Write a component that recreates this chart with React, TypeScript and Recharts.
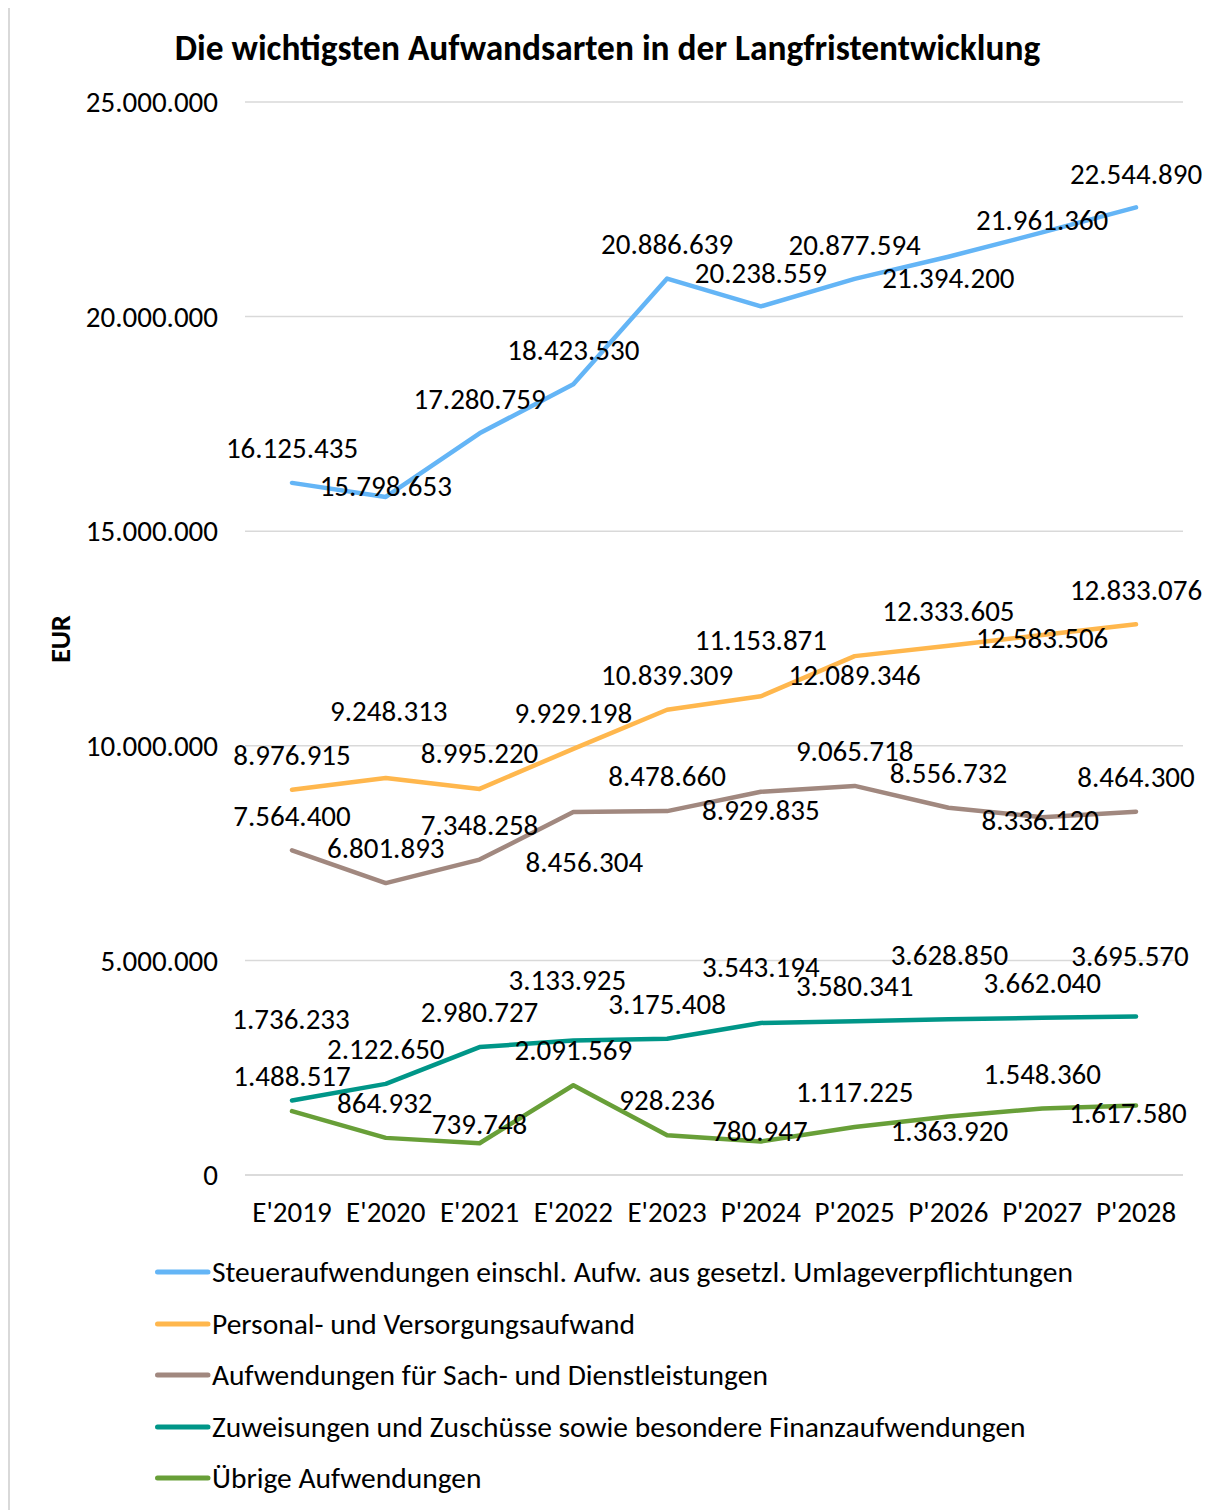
import React from 'react';
import { LineChart, Line, XAxis, YAxis, CartesianGrid, LabelList } from 'recharts';

const categories = ["E'2019", "E'2020", "E'2021", "E'2022", "E'2023", "P'2024", "P'2025", "P'2026", "P'2027", "P'2028"];
const steuer = [16125435, 15798653, 17280759, 18423530, 20886639, 20238559, 20877594, 21394200, 21961360, 22544890];
const personal = [8976915, 9248313, 8995220, 9929198, 10839309, 11153871, 12089346, 12333605, 12583506, 12833076];
const sach = [7564400, 6801893, 7348258, 8456304, 8478660, 8929835, 9065718, 8556732, 8336120, 8464300];
const zuweisungen = [1736233, 2122650, 2980727, 3133925, 3175408, 3543194, 3580341, 3628850, 3662040, 3695570];
const uebrige = [1488517, 864932, 739748, 2091569, 928236, 780947, 1117225, 1363920, 1548360, 1617580];
const yTicks = [0, 5000000, 10000000, 15000000, 20000000, 25000000];

const seriesNames = [
  'Steueraufwendungen einschl. Aufw. aus gesetzl. Umlageverpflichtungen',
  'Personal- und Versorgungsaufwand',
  'Aufwendungen für Sach- und Dienstleistungen',
  'Zuweisungen und Zuschüsse sowie besondere Finanzaufwendungen',
  'Übrige Aufwendungen',
];
const title = 'Die wichtigsten Aufwandsarten in der Langfristentwicklung';

// label placement relative to each point (vertical / horizontal shift of the label centre)
const labelShift = {
  steuer: { dy: [-35, -11, -34, -34, -35, -34, -34, 21, -13, -34], dx: [0, 0, 0, 0, 0, 0, 0, 0, 0, 0] },
  personal: { dy: [-35, -67, -36, -36, -35, -56, 19, -35, 3, -34], dx: [0, 3, 0, 0, 0, 0, 0, 0, 0, 0] },
  sach: { dy: [-34, -35, -35, 50, -35, 18, -35, -35, 3, -35], dx: [0, 0, 0, 11, 0, 0, 0, 0, -2, 0] },
  zuweisungen: { dy: [-82, -35, -35, -61, -35, -56, -35, -64, -35, -61], dx: [-1, 0, 0, -6, 0, 0, 0, 1, 0, -6] },
  uebrige: { dy: [-35, -35, -19, -35, -35, -11, -35, 14, -35, 7], dx: [0, -1, 0, 0, 0, -1, 0, 1, 0, -8] },
};

const series = [
  { key: 'steuer', name: seriesNames[0], color: '#64B5F6', values: steuer },
  { key: 'personal', name: seriesNames[1], color: '#FFB74D', values: personal },
  { key: 'sach', name: seriesNames[2], color: '#A1887F', values: sach },
  { key: 'zuweisungen', name: seriesNames[3], color: '#009688', values: zuweisungen },
  { key: 'uebrige', name: seriesNames[4], color: '#689F38', values: uebrige },
];

const data = categories.map((c, i) => {
  const row: any = { cat: c };
  series.forEach((s) => { row[s.key] = s.values[i]; });
  return row;
});

const fmt = (v: number) => String(Math.round(v)).replace(/\B(?=(\d{3})+(?!\d))/g, '.');

const FONT = "Carlito, Calibri, 'Liberation Sans', sans-serif";
const FS = 29;

const makeLabel = (key: string) => (props: any) => {
  const { x, y, value, index } = props;
  const sh = (labelShift as any)[key];
  const i = typeof index === 'number' ? index : 0;
  return (
    <text x={x + sh.dx[i]} y={y + sh.dy[i]} dy="0.35em" textAnchor="middle" fontSize={FS} fontFamily={FONT} fill="#000">
      {fmt(value)}
    </text>
  );
};

export default function App() {
  return (
    <div style={{ position: 'relative', marginTop: -3, width: 1215, height: 1520, border: '2px solid #d9d9d9', boxSizing: 'border-box', fontFamily: FONT }}>
      <div style={{ position: 'absolute', left: 0, width: 1195, top: 23, textAlign: 'center', fontWeight: 'bold', fontSize: 35.4, lineHeight: '36px', color: '#000', whiteSpace: 'nowrap' }}>
        {title}
      </div>
      <LineChart width={1200} height={1240} data={data} margin={{ top: 95, right: 27, bottom: 12, left: 0 }}>
        <CartesianGrid vertical={false} stroke="#d9d9d9" strokeWidth={1.5} />
        <XAxis
          dataKey="cat"
          padding={{ left: 47, right: 47 }}
          height={60}
          tickSize={0}
          tickMargin={26}
          tickLine={false}
          axisLine={{ stroke: '#d9d9d9', strokeWidth: 1.5 }}
          tick={{ fill: '#000', fontSize: FS, fontFamily: FONT }}
          interval={0}
        />
        <YAxis
          width={235}
          domain={[0, 25000000]}
          ticks={yTicks}
          tickFormatter={fmt}
          tickSize={0}
          tickMargin={27}
          tickLine={false}
          axisLine={false}
          tick={{ fill: '#000', fontSize: FS, fontFamily: FONT }}
          label={{
            content: () => (
              <text x={50} y={632} transform="rotate(-90 50 632)" textAnchor="middle" dominantBaseline="central" fontWeight="bold" fontSize={28} fontFamily={FONT} fill="#000">
                EUR
              </text>
            ),
          }}
        />
        {series.map((s) => (
          <Line
            key={s.key}
            dataKey={s.key}
            name={s.name}
            type="linear"
            stroke={s.color}
            strokeWidth={4.5}
            strokeLinecap="round"
            strokeLinejoin="round"
            dot={false}
            activeDot={false}
            isAnimationActive={false}
          >
            <LabelList dataKey={s.key} content={makeLabel(s.key)} />
          </Line>
        ))}
      </LineChart>
      <div style={{ position: 'absolute', left: 0, top: 0 }}>
        {series.map((s, i) => (
          <div key={s.key} style={{ position: 'absolute', left: 145, top: 1249 + i * 51.5, height: 32, display: 'flex', alignItems: 'center', whiteSpace: 'nowrap' }}>
            <svg width={57} height={10} style={{ display: 'block' }}>
              <line x1={2.5} y1={5} x2={53} y2={5} stroke={s.color} strokeWidth={5} strokeLinecap="round" />
            </svg>
            <span style={{ fontSize: 29.5, color: '#000', lineHeight: '32px' }}>{s.name}</span>
          </div>
        ))}
      </div>
    </div>
  );
}
